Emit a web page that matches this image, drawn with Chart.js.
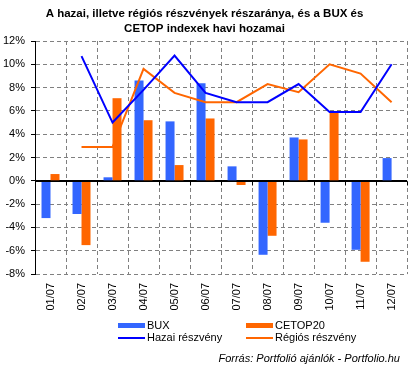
<!DOCTYPE html>
<html>
<head>
<meta charset="utf-8">
<script src="https://cdn.jsdelivr.net/npm/chart.js@4.4.1/dist/chart.umd.min.js"></script>
<style>
  body { margin: 0; background: #fff; font-family: "Liberation Sans", Arial, sans-serif; }
  #wrap { position: relative; width: 414px; height: 370px; }
  .lg { position: absolute; font-size: 11px; line-height: 13px; color: #000; white-space: nowrap; }
  .sw { position: absolute; }
  #source { position: absolute; right: 14px; top: 352px; font-size: 11px; line-height: 13px; font-style: italic; color: #000; }
</style>
</head>
<body>
<div id="wrap">
  <canvas id="chart" width="414" height="370"></canvas>
  <div id="legend"></div>
  <div id="source">Forrás: Portfolió ajánlók - Portfolio.hu</div>
</div>
<script>
const months = ['01/07', '02/07', '03/07', '04/07', '05/07', '06/07', '07/07', '08/07', '09/07', '10/07', '11/07', '12/07'];
const buxReturn = [-3.2, -2.85, 0.3, 8.6, 5.1, 8.37, 1.24, -6.35, 3.72, -3.6, -5.92, 1.95];
const cetopReturn = [0.58, -5.52, 7.09, 5.2, 1.35, 5.35, -0.36, -4.72, 3.55, 5.9, -6.95, -0.1];
const hazaiShare = [null, 10.7, 5.0, 7.8, 10.75, 7.55, 6.75, 6.75, 8.3, 5.9, 5.9, 10.0];
const regiosShare = [null, 2.9, 2.9, 9.6, 7.55, 6.75, 6.75, 8.3, 7.6, 10.0, 9.2, 6.75];

Chart.defaults.font.family = '"Liberation Sans", Arial, sans-serif';
Chart.defaults.font.size = 11;
Chart.defaults.color = '#000';

// zero line on top of the bars, with the little category ticks below it
const zeroLine = {
  id: 'zeroLine',
  afterDatasetsDraw(chart) {
    const { ctx, scales: { x, y } } = chart;
    const y0 = Math.round(y.getPixelForValue(0)) + 0.5;
    const step = x.width / months.length;
    ctx.save();
    ctx.strokeStyle = '#000';
    ctx.lineWidth = 1;
    ctx.beginPath();
    ctx.moveTo(x.left, y0);
    ctx.lineTo(x.right, y0);
    for (let i = 1; i <= months.length; i++) {
      const px = Math.round(x.left + i * step) + 0.5;
      ctx.moveTo(px, y0);
      ctx.lineTo(px, y0 + 4);
    }
    ctx.stroke();
    ctx.restore();
  }
};

const chart = new Chart(document.getElementById('chart'), {
  data: {
    labels: months,
    datasets: [
      { type: 'bar', label: 'BUX', data: buxReturn, backgroundColor: '#3366FF', order: 1 },
      { type: 'bar', label: 'CETOP20', data: cetopReturn, backgroundColor: '#FF6600', order: 1 },
      { type: 'line', label: 'Hazai részvény', data: hazaiShare, borderColor: '#0000FF', borderWidth: 2, pointRadius: 0, tension: 0, fill: false, order: 0 },
      { type: 'line', label: 'Régiós részvény', data: regiosShare, borderColor: '#FF6600', borderWidth: 2, pointRadius: 0, tension: 0, fill: false, order: 0 }
    ]
  },
  options: {
    responsive: false,
    animation: false,
    devicePixelRatio: 1,
    datasets: { bar: { categoryPercentage: 0.58, barPercentage: 1.0 } },
    layout: { padding: { left: 0, right: 5, top: 0, bottom: 56 } },
    plugins: {
      legend: { display: false },
      tooltip: { enabled: false },
      title: {
        display: true,
        text: ['A hazai, illetve régiós részvények részaránya, és a BUX és', 'CETOP indexek havi hozamai'],
        font: { weight: 'bold', size: 11.5, lineHeight: '15px' },
        color: '#000',
        padding: { top: 6.5, bottom: 4.5 }
      }
    },
    scales: {
      x: {
        offset: true,
        grid: { offset: true, color: '#808080', drawTicks: false },
        border: { display: false, dash: [4, 3] },
        ticks: { autoSkip: false, maxRotation: 90, minRotation: 90, padding: 9 },
        afterFit: s => { s.height = 40; }
      },
      y: {
        min: -8,
        max: 12,
        ticks: { stepSize: 2, padding: 6, callback: v => v + '%' },
        grid: {
          color: c => (c.tick && c.tick.value === 0 ? '#000' : '#808080'),
          tickColor: '#000',
          tickLength: 4
        },
        border: { display: true, color: '#000', dash: c => (c.tick && c.tick.value === 0 ? [] : [4, 3]) },
        afterFit: s => { s.width = 35; }
      }
    }
  },
  plugins: [zeroLine]
});

// html legend: bars in the first row, lines in the second
const legendCols = [118, 246];
const legendRows = [325, 337.5];
const legendBox = document.getElementById('legend');
const bars = chart.data.datasets.filter(d => d.type === 'bar');
const lines = chart.data.datasets.filter(d => d.type === 'line');
[bars, lines].forEach((row, r) => {
  row.forEach((ds, c) => {
    const left = legendCols[c];
    const mid = legendRows[r];
    const sw = document.createElement('div');
    sw.className = 'sw';
    const h = ds.type === 'bar' ? 5 : 2;
    sw.style.cssText = `left:${left}px;top:${mid - h / 2}px;width:27px;height:${h}px;background:${ds.backgroundColor || ds.borderColor}`;
    legendBox.appendChild(sw);
    const tx = document.createElement('div');
    tx.className = 'lg';
    tx.style.left = (left + 29) + 'px';
    tx.style.top = (mid - 6.5) + 'px';
    tx.textContent = ds.label;
    legendBox.appendChild(tx);
  });
});
</script>
</body>
</html>
